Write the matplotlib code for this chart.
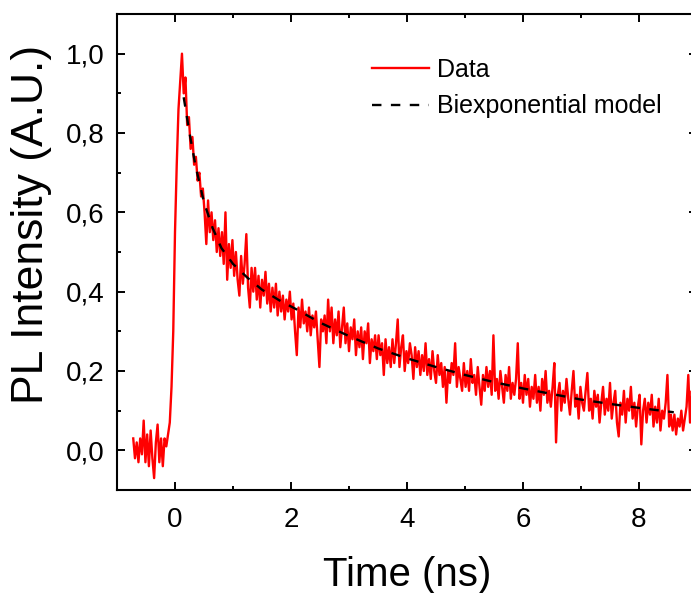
import numpy as np
import matplotlib
matplotlib.use("Agg")
import matplotlib.pyplot as plt
from matplotlib.ticker import MultipleLocator, FuncFormatter

plt.rcParams['font.family'] = ['Liberation Sans', 'DejaVu Sans']

t_start = -0.72
t_step = 0.03
pl_data = [
    0.03, -0.02, 0.02, -0.03, 0.03, -0.01, 0.075, -0.03, 0.04, -0.04,
    0.05, -0.02, -0.07, 0.02, 0.065, -0.03, 0.03, -0.04, 0.03, 0.01,
    0.04, 0.07, 0.16, 0.30, 0.55, 0.72, 0.86, 0.93, 1.00, 0.90,
    0.94, 0.82, 0.84, 0.76, 0.79, 0.72, 0.74, 0.68, 0.70, 0.64,
    0.66, 0.60, 0.52, 0.63, 0.55, 0.60, 0.53, 0.58, 0.50, 0.56,
    0.49, 0.55, 0.47, 0.60, 0.43, 0.52, 0.46, 0.53, 0.44, 0.50,
    0.43, 0.39, 0.49, 0.42, 0.47, 0.545, 0.41, 0.36, 0.46, 0.40,
    0.46, 0.38, 0.44, 0.36, 0.43, 0.39, 0.45, 0.37, 0.42, 0.35,
    0.41, 0.36, 0.42, 0.34, 0.40, 0.35, 0.39, 0.33, 0.38, 0.35,
    0.40, 0.33, 0.37, 0.30, 0.24, 0.36, 0.31, 0.38, 0.32, 0.35,
    0.30, 0.36, 0.29, 0.34, 0.31, 0.35, 0.28, 0.21, 0.33, 0.30,
    0.34, 0.27, 0.38, 0.30, 0.36, 0.27, 0.33, 0.29, 0.35, 0.26,
    0.31, 0.36, 0.27, 0.32, 0.25, 0.31, 0.28, 0.33, 0.24, 0.30,
    0.26, 0.31, 0.23, 0.30, 0.27, 0.32, 0.22, 0.28, 0.25, 0.29,
    0.23, 0.29, 0.24, 0.27, 0.19, 0.28, 0.22, 0.26, 0.21, 0.28,
    0.22, 0.27, 0.33, 0.21, 0.26, 0.29, 0.20, 0.25, 0.22, 0.27,
    0.24, 0.18, 0.26, 0.21, 0.25, 0.19, 0.24, 0.20, 0.27, 0.19,
    0.23, 0.18, 0.25, 0.20, 0.17, 0.24, 0.19, 0.22, 0.16, 0.21,
    0.12, 0.20, 0.17, 0.22, 0.19, 0.27, 0.16, 0.21, 0.18, 0.15,
    0.22, 0.16, 0.20, 0.15, 0.23, 0.17, 0.19, 0.14, 0.21, 0.16,
    0.115, 0.19, 0.15, 0.21, 0.16, 0.20, 0.14, 0.29, 0.15, 0.18,
    0.13, 0.20, 0.16, 0.12, 0.19, 0.15, 0.21, 0.13, 0.17, 0.14,
    0.18, 0.27, 0.13, 0.17, 0.12, 0.19, 0.14, 0.18, 0.11, 0.16,
    0.13, 0.19, 0.12, 0.16, 0.10, 0.18, 0.14, 0.20, 0.12, 0.15,
    0.11, 0.16, 0.22, 0.02, 0.14, 0.17, 0.10, 0.15, 0.12, 0.18,
    0.13, 0.09, 0.15, 0.20, 0.11, 0.14, 0.08, 0.16, 0.12, 0.10,
    0.15, 0.195, 0.10, 0.13, 0.08, 0.15, 0.11, 0.14, 0.07, 0.12,
    0.16, 0.09, 0.13, 0.10, 0.17, 0.08, 0.12, 0.15, 0.07, 0.035,
    0.12, 0.09, 0.15, 0.07, 0.13, 0.10, 0.16, 0.08, 0.12, 0.06,
    0.11, 0.14, 0.015, 0.10, 0.13, 0.07, 0.12, 0.09, 0.14, 0.06,
    0.11, 0.07, 0.13, 0.05, 0.10, 0.08, 0.12, 0.19, 0.06, 0.09,
    0.05, 0.09, 0.04, 0.08, 0.06, 0.10, 0.05, 0.08, 0.11, 0.19,
    0.07, 0.15, 0.10, 0.13, 0.09,
]

# biexponential fit curve
fit_t = [0.15, 0.25, 0.35, 0.5, 0.65, 0.8, 1.0, 1.25, 1.5, 1.8, 2.1, 2.5,
         3.0, 3.5, 4.0, 4.5, 5.0, 5.5, 6.0, 6.5, 7.0, 7.5, 8.0, 8.6]
fit_v = [0.89, 0.80, 0.72, 0.625, 0.56, 0.51, 0.47, 0.435, 0.405, 0.378, 0.355, 0.322,
         0.288, 0.257, 0.232, 0.21, 0.19, 0.172, 0.156, 0.142, 0.128, 0.117, 0.107, 0.096]

time_ns = t_start + t_step * np.arange(len(pl_data))

fig = plt.figure(figsize=(6.91, 5.93), dpi=100)
ax = fig.add_axes([117 / 691, 103 / 593, 580 / 691, 476 / 593])

ax.plot(time_ns, pl_data, color='#ff0000', lw=1.7, label='Data')
ax.plot(fit_t, fit_v, color='black', lw=1.7, ls=(0, (4, 4)), label='Biexponential model')

ax.set_xlim(-1, 9)
ax.set_ylim(-0.1, 1.1)
ax.xaxis.set_major_locator(MultipleLocator(2))
ax.xaxis.set_minor_locator(MultipleLocator(1))
ax.yaxis.set_major_locator(MultipleLocator(0.2))
ax.yaxis.set_minor_locator(MultipleLocator(0.1))
ax.yaxis.set_major_formatter(FuncFormatter(lambda v, p: f"{v:.1f}".replace('.', ',')))

ax.tick_params(which='both', direction='in', top=True, right=True, width=1.4, labelsize=20)
ax.tick_params(which='major', length=6, pad=9)
ax.tick_params(which='minor', length=3)
ax.tick_params(axis='x', which='major', pad=12)
for s in ax.spines.values():
    s.set_linewidth(1.5)

ax.set_xlabel('Time (ns)', fontsize=29, labelpad=17)
ax.set_ylabel('PL Intensity (A.U.)', fontsize=32)
ax.yaxis.label.set(va='center', ha='center')
ax.yaxis.set_label_coords(-0.148, 0.557)

ax.legend(loc='upper left', bbox_to_anchor=(372 / 691, 1 - 58 / 593), bbox_transform=fig.transFigure,
          frameon=False, fontsize=18, handlelength=2.3, handletextpad=0.3,
          labelspacing=0.5, borderpad=0, borderaxespad=0)

fig.savefig('out.png', dpi=100)
